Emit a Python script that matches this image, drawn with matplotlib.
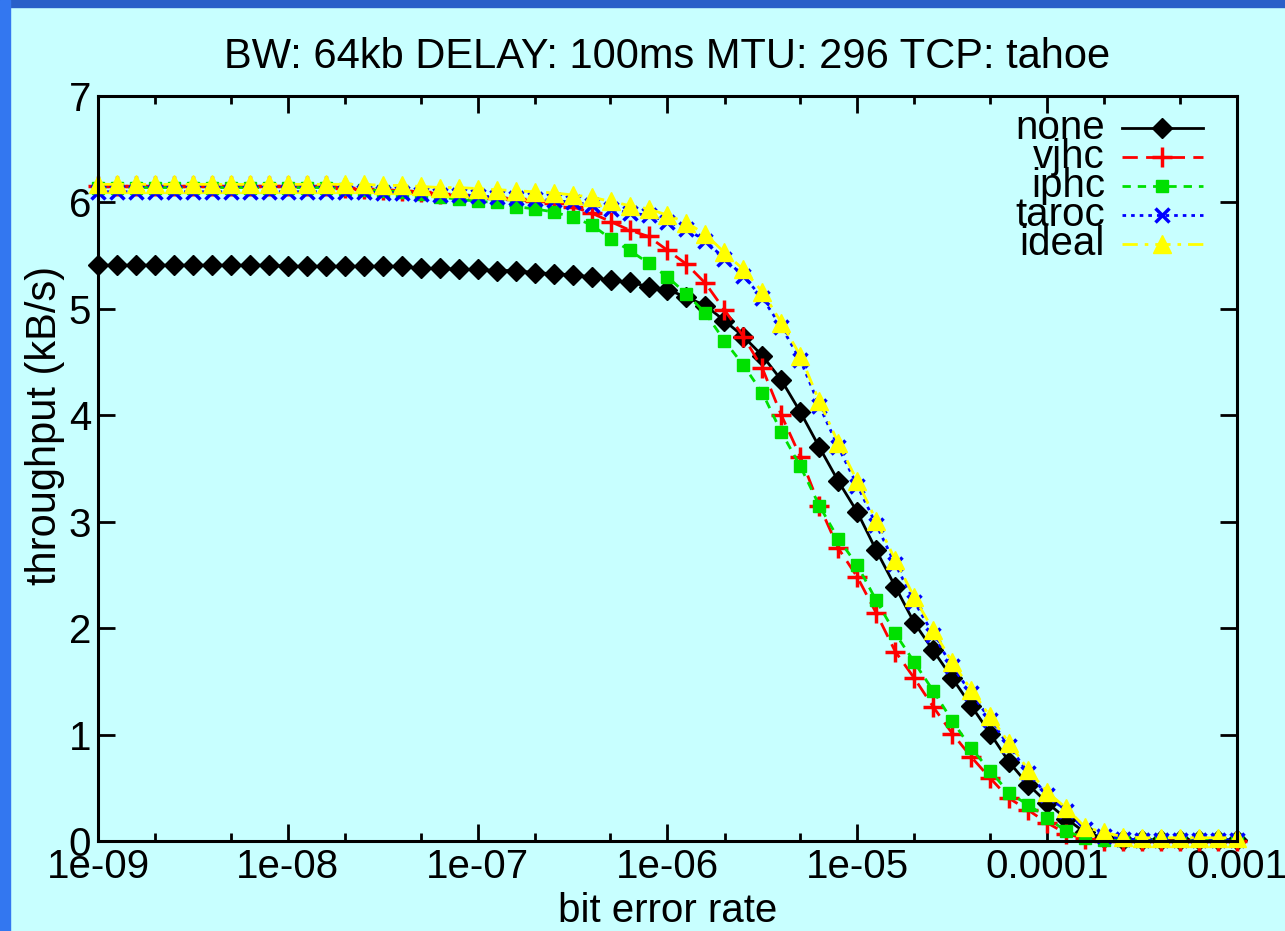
import matplotlib
matplotlib.use('Agg')
import matplotlib.pyplot as plt
from matplotlib.lines import Line2D
from matplotlib.patches import Rectangle
from matplotlib.ticker import FixedLocator, FixedFormatter, NullFormatter

plt.rcParams['font.family'] = ['Liberation Sans', 'DejaVu Sans']

# bit error rate, 10 points per decade from 1e-9 to 1e-3
ber = [10 ** (-9 + k / 10) for k in range(61)]

none = [5.41, 5.41, 5.41, 5.41, 5.41, 5.41, 5.41, 5.41, 5.41, 5.41,
        5.40, 5.40, 5.40, 5.40, 5.40, 5.40, 5.40, 5.38, 5.38, 5.37,
        5.37, 5.36, 5.36, 5.34, 5.33, 5.32, 5.30, 5.27, 5.25, 5.21,
        5.18, 5.11, 5.03, 4.89, 4.74, 4.56, 4.33, 4.03, 3.70, 3.38,
        3.09, 2.73, 2.39, 2.05, 1.79, 1.53, 1.27, 1.01, 0.74, 0.53,
        0.36, 0.21, 0.08, 0.03, 0.01, 0.01, 0.01, 0.01, 0.01, 0.01, 0.01]

vjhc = [6.15, 6.15, 6.15, 6.15, 6.15, 6.15, 6.15, 6.15, 6.15, 6.15,
        6.15, 6.15, 6.15, 6.14, 6.13, 6.12, 6.11, 6.10, 6.08, 6.07,
        6.05, 6.04, 6.03, 6.01, 5.99, 5.96, 5.90, 5.82, 5.74, 5.68,
        5.55, 5.42, 5.24, 4.99, 4.74, 4.44, 4.00, 3.61, 3.15, 2.75,
        2.48, 2.14, 1.78, 1.53, 1.26, 1.01, 0.79, 0.59, 0.40, 0.29,
        0.17, 0.07, 0.02, 0.00, 0.00, 0.00, 0.00, 0.00, 0.00, 0.00, 0.00]

iphc = [6.14, 6.14, 6.14, 6.14, 6.14, 6.14, 6.14, 6.14, 6.14, 6.14,
        6.14, 6.14, 6.14, 6.13, 6.12, 6.11, 6.10, 6.08, 6.05, 6.03,
        6.01, 6.00, 5.96, 5.94, 5.91, 5.86, 5.79, 5.66, 5.55, 5.43,
        5.30, 5.14, 4.96, 4.70, 4.47, 4.21, 3.84, 3.52, 3.15, 2.84,
        2.59, 2.26, 1.95, 1.68, 1.41, 1.13, 0.87, 0.66, 0.45, 0.34,
        0.22, 0.09, 0.03, 0.01, 0.01, 0.01, 0.01, 0.01, 0.01, 0.01, 0.01]

taroc = [6.10, 6.10, 6.10, 6.10, 6.10, 6.10, 6.10, 6.10, 6.10, 6.10,
         6.10, 6.10, 6.10, 6.10, 6.10, 6.09, 6.09, 6.08, 6.07, 6.07,
         6.06, 6.05, 6.04, 6.03, 6.02, 6.00, 5.98, 5.94, 5.90, 5.88,
         5.82, 5.75, 5.64, 5.47, 5.31, 5.10, 4.83, 4.52, 4.09, 3.70,
         3.34, 2.97, 2.60, 2.25, 1.94, 1.64, 1.39, 1.14, 0.89, 0.64,
         0.43, 0.28, 0.11, 0.05, 0.02, 0.01, 0.01, 0.01, 0.01, 0.01, 0.01]

ideal = [6.17, 6.17, 6.17, 6.17, 6.17, 6.17, 6.17, 6.17, 6.17, 6.17,
         6.17, 6.17, 6.17, 6.17, 6.17, 6.16, 6.16, 6.15, 6.14, 6.14,
         6.13, 6.12, 6.11, 6.10, 6.09, 6.07, 6.05, 6.01, 5.97, 5.94,
         5.88, 5.81, 5.70, 5.53, 5.37, 5.16, 4.87, 4.56, 4.13, 3.74,
         3.38, 3.01, 2.64, 2.29, 1.98, 1.68, 1.42, 1.17, 0.92, 0.67,
         0.46, 0.31, 0.13, 0.08, 0.04, 0.03, 0.03, 0.03, 0.03, 0.03, 0.03]

x_major = [1e-9, 1e-8, 1e-7, 1e-6, 1e-5, 1e-4, 1e-3]
x_labels = ['1e-09', '1e-08', '1e-07', '1e-06', '1e-05', '0.0001', '0.001']
x_minor = [m * 10 ** e for e in range(-9, -3) for m in (2, 5)]
y_ticks = [0, 1, 2, 3, 4, 5, 6, 7]

bg = '#c8ffff'
fs = 29

series = [
    ('none', none, dict(color='black', ls='-', marker='D', ms=10)),
    ('vjhc', vjhc, dict(color='#ff0000', ls=(0, (5.5, 3)), marker='+', ms=15, mew=2.5)),
    ('iphc', iphc, dict(color='#00e000', ls=(0, (3, 2.5)), marker='s', ms=9, mec='#00e000')),
    ('taroc', taroc, dict(color='#0000ff', ls=(0, (1.3, 1.8)), marker='x', ms=10, mew=2.5)),
    ('ideal', ideal, dict(color='#ffff00', ls=(0, (5.5, 2.5, 1.3, 2.5)), marker='^', ms=13, mec='#ffff00')),
]

fig = plt.figure(figsize=(12.85, 9.31), dpi=100, facecolor=bg)
ax = fig.add_axes([98 / 1285, 1 - 841 / 931, 1139 / 1285, 745 / 931])
ax.set_facecolor(bg)

# blue frame at the top and left
fig.patches.append(Rectangle((0, 1 - 7 / 931), 1, 7 / 931, transform=fig.transFigure,
                             color='#2a5fc8', zorder=0))
fig.patches.append(Rectangle((0, 0), 10 / 1285, 1, transform=fig.transFigure,
                             color='#3377f0', zorder=0))

for name, vals, st in series:
    ax.plot(ber, vals, lw=2, clip_on=False, **st)

ax.set_xscale('log')
ax.set_xlim(1e-9, 1e-3)
ax.set_ylim(0, 7)
ax.xaxis.set_major_locator(FixedLocator(x_major))
ax.xaxis.set_major_formatter(FixedFormatter(x_labels))
ax.xaxis.set_minor_locator(FixedLocator(x_minor))
ax.xaxis.set_minor_formatter(NullFormatter())
ax.set_yticks(y_ticks)
ax.tick_params(which='both', direction='in', top=True, right=True, width=2, labelsize=fs)
ax.tick_params(which='major', length=12, pad=5)
ax.tick_params(which='minor', length=6)
for sp in ax.spines.values():
    sp.set_linewidth(2.2)

ax.set_title('BW: 64kb DELAY: 100ms MTU: 296 TCP: tahoe', fontsize=30, pad=20)
ax.set_xlabel('bit error rate', fontsize=fs, labelpad=4)
fig.text(45 / 1285, 1 - 425 / 931, 'throughput (kB/s)', rotation=90, fontsize=30,
         ha='center', va='center')

# gnuplot style key: text right aligned, sample to the right
rows = [0.957, 0.918, 0.879, 0.840, 0.801]
for (name, vals, st), ry in zip(series, rows):
    ax.text(0.884, ry, name, transform=ax.transAxes, ha='right', va='center', fontsize=fs)
    line_st = {k: v for k, v in st.items() if k not in ('marker', 'ms', 'mew', 'mec')}
    ax.add_line(Line2D([0.899, 0.970], [ry, ry], transform=ax.transAxes, lw=2, **line_st))
    mk_st = {k: v for k, v in st.items() if k != 'ls'}
    ax.add_line(Line2D([0.934], [ry], transform=ax.transAxes, ls='none', **mk_st))

fig.savefig('out.png', dpi=100, facecolor=bg)
